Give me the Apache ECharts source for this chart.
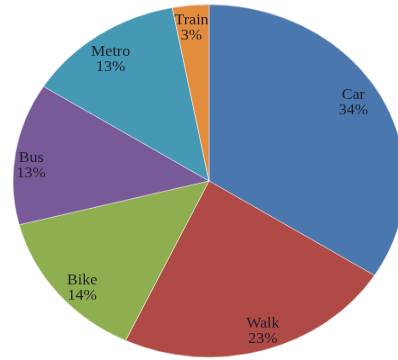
<!DOCTYPE html>
<html>
<head>
<meta charset="utf-8">
<script src="https://cdn.jsdelivr.net/npm/echarts@6/dist/echarts.min.js"></script>
<style>
  html, body { margin: 0; padding: 0; background: #fff; overflow: hidden; width: 398px; height: 360px; }
  #chart { width: 398px; height: 400px; transform: scaleY(0.9); transform-origin: 0 0; }
</style>
</head>
<body>
<div id="chart"></div>
<script>
// Data
const categories = ['Car', 'Walk', 'Bike', 'Bus', 'Metro', 'Train'];
const shares = [34, 23, 14, 13, 13, 3];

// Styling (kept separate from data)
const colors = ['#4a77ae', '#b04a46', '#8fae50', '#785a98', '#4599b5', '#e28c3e'];
const labelNudge = {
  Car: [-9, -2], Walk: [5, -1], Bike: [8, 8],
  Bus: [-5, 11], Metro: [0, 10], Train: [-1, 5]
};

const chart = echarts.init(document.getElementById('chart'), null, { renderer: 'canvas' });

const sliceData = categories.map((name, i) => ({
  name, value: shares[i], itemStyle: { color: colors[i] }
}));
const labelData = categories.map((name, i) => ({
  name, value: shares[i],
  label: { offset: labelNudge[name] }
}));

chart.setOption({
  animation: false,
  backgroundColor: '#ffffff',
  series: [
    {
      type: 'pie',
      center: [209, 201],
      radius: [0, 196],
      startAngle: 90,
      clockwise: true,
      silent: true,
      label: { show: false },
      labelLine: { show: false },
      itemStyle: { borderColor: 'rgba(255,255,255,0.45)', borderWidth: 1 },
      data: sliceData
    },
    {
      type: 'pie',
      center: [209, 201],
      radius: [148, 196],
      startAngle: 90,
      clockwise: true,
      silent: true,
      itemStyle: { color: 'rgba(0,0,0,0)' },
      label: {
        show: true,
        position: 'inside',
        formatter: '{b}\n{c}%',
        fontFamily: '"Liberation Serif", "Times New Roman", serif',
        fontSize: 16,
        lineHeight: 17,
        color: '#1e1e28'
      },
      labelLine: { show: false },
      data: labelData
    }
  ]
});
</script>
</body>
</html>
